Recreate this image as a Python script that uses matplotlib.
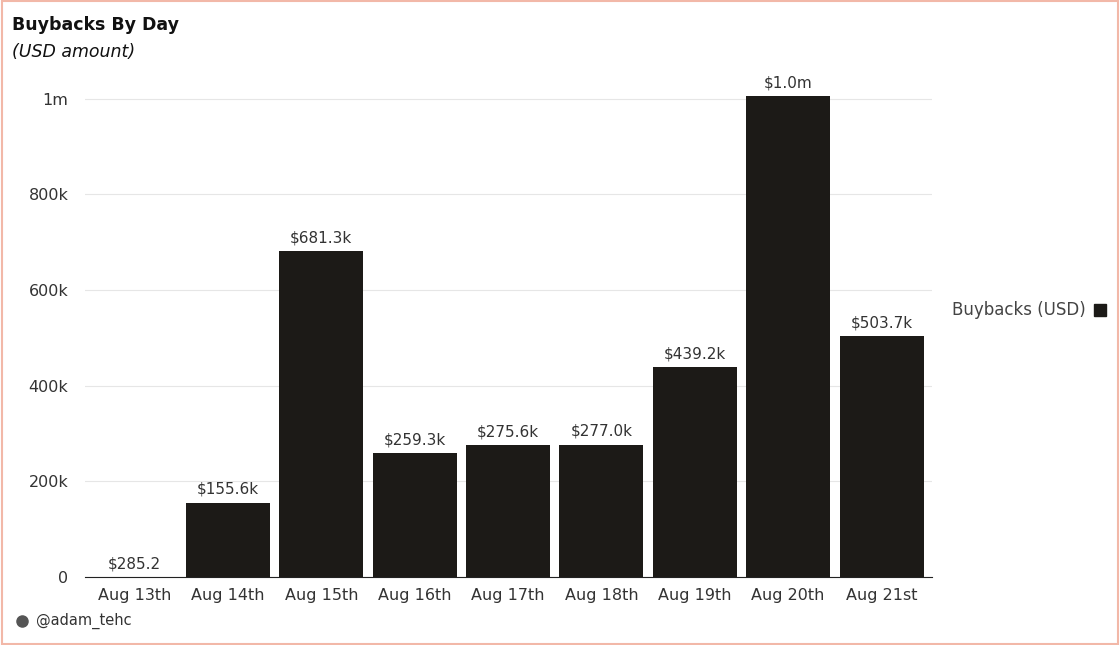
import matplotlib.pyplot as plt
from matplotlib.patches import Rectangle
from matplotlib.lines import Line2D

days = ["Aug 13th", "Aug 14th", "Aug 15th", "Aug 16th", "Aug 17th",
        "Aug 18th", "Aug 19th", "Aug 20th", "Aug 21st"]
buybacks = [285.2, 155600, 681300, 259300, 275600, 277000, 439200, 1006000, 503700]
labels = ["$285.2", "$155.6k", "$681.3k", "$259.3k", "$275.6k",
          "$277.0k", "$439.2k", "$1.0m", "$503.7k"]
yticks = [0, 200000, 400000, 600000, 800000, 1000000]
ytick_labels = ["0", "200k", "400k", "600k", "800k", "1m"]

bar_color = "#1c1a17"
text_color = "#333333"

fig = plt.figure(figsize=(11.2, 6.45), dpi=100)
fig.patches.append(Rectangle((0.002, 0.002), 0.996, 0.996, transform=fig.transFigure,
                             fill=False, edgecolor="#f2b8a8", linewidth=1.5))

ax = fig.add_axes([85 / 1120, 68 / 645, 847 / 1120, 492 / 645])
x = range(len(days))
ax.bar(x, buybacks, width=0.9, color=bar_color, zorder=2)
for xi, v, lab in zip(x, buybacks, labels):
    ax.text(xi, v + 12000, lab, ha="center", va="bottom", fontsize=11, color=text_color)

ax.set_xlim(-0.53, 8.54)
ax.set_ylim(0, 1.029e6)
ax.set_xticks(list(x))
ax.set_xticklabels(days, fontsize=11.5, color=text_color)
ax.set_yticks(yticks)
ax.set_yticklabels(ytick_labels, fontsize=11.5, color=text_color)
ax.tick_params(length=0, pad=8)
ax.tick_params(axis="y", pad=12)
ax.grid(axis="y", color="#e6e6e6", linewidth=0.8, zorder=0)
for s in ["top", "right", "left"]:
    ax.spines[s].set_visible(False)
ax.spines["bottom"].set_color("#222222")

fig.text(12 / 1120, 1 - 25 / 645, "Buybacks By Day", fontsize=12.5, fontweight="bold",
         color="#111111", va="center")
fig.text(12 / 1120, 1 - 52 / 645, "(USD amount)", fontsize=12.5, style="italic",
         color="#111111", va="center")
fig.text(1086 / 1120, 1 - 310 / 645, "Buybacks (USD)", fontsize=12, color="#444444",
         ha="right", va="center")
fig.add_artist(Line2D([1100 / 1120], [1 - 310 / 645], marker="s", markersize=8,
                      color=bar_color, transform=fig.transFigure))
fig.text(36 / 1120, 1 - 621 / 645, "@adam_tehc", fontsize=10.5, color="#333333", va="center")
fig.add_artist(Line2D([22 / 1120], [1 - 621 / 645], marker="o", markersize=8,
                      color="#555555", transform=fig.transFigure))

fig.savefig("out.png", dpi=100)
